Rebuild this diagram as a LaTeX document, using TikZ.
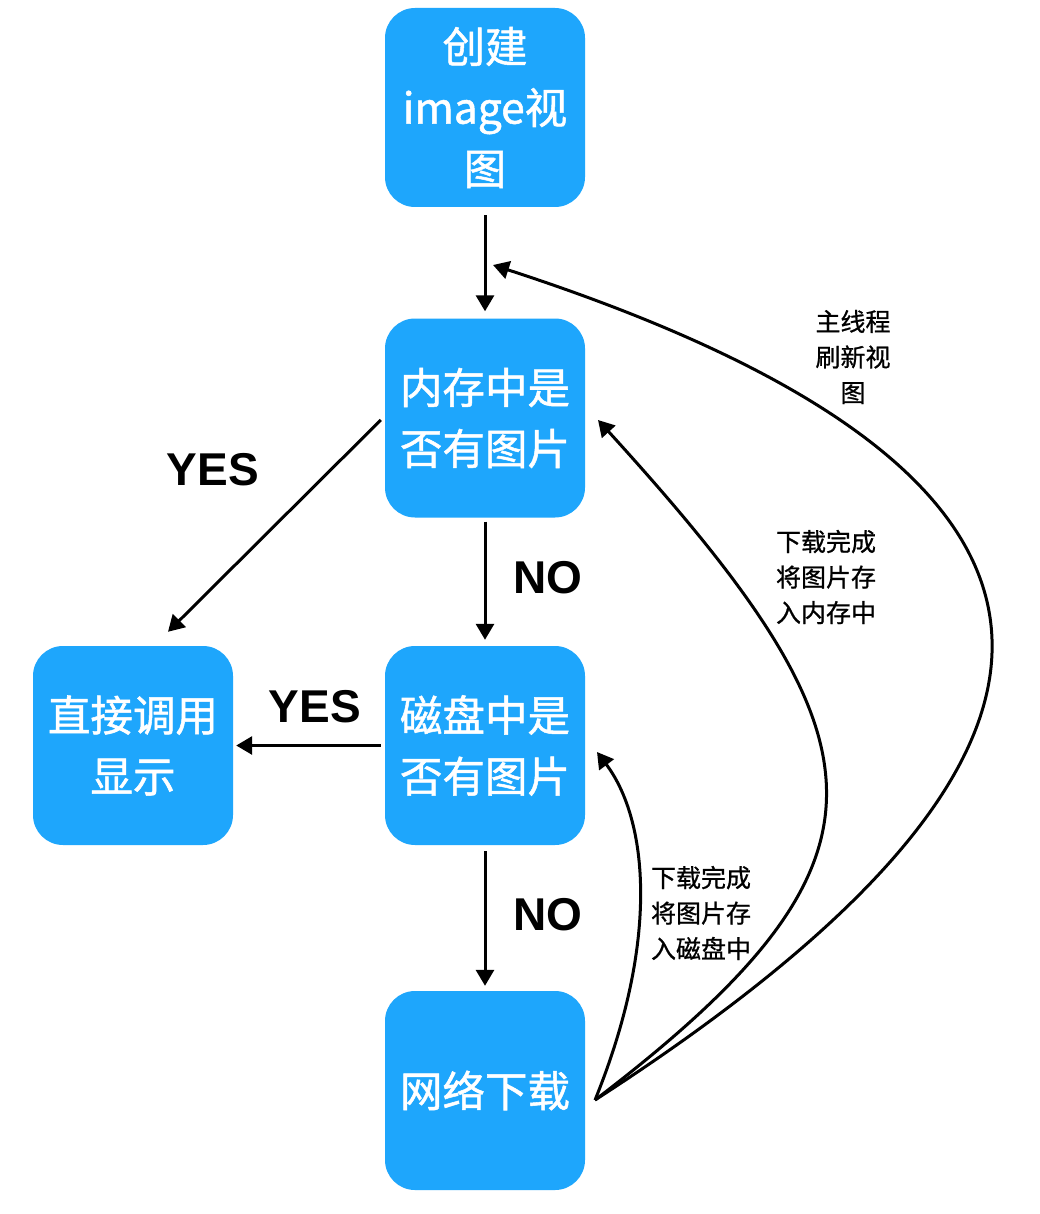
\documentclass[tikz,border=0pt]{standalone}
\usepackage{fontspec}
\setmainfont{Noto Sans CJK SC}
\newfontfamily\boxfont[FakeBold=1.2]{Noto Sans CJK SC}
\newfontfamily\smallfont[FakeBold=0.8]{Noto Sans CJK SC}
\newfontfamily\latinbold{Liberation Sans}
\usetikzlibrary{arrows.meta}
\definecolor{boxblue}{RGB}{30,166,252}
\begin{document}
\begin{tikzpicture}[x=1pt,y=-1pt,
 box/.style={fill=boxblue, rounded corners=30pt, minimum width=200pt, minimum height=199pt, text=white, font=\boxfont\fontsize{42.5}{61}\selectfont, align=center, inner sep=0pt},
 conn/.style={line width=3pt, -{Triangle[length=16pt,width=18pt]}},
 yn/.style={font=\latinbold\bfseries\fontsize{46}{50}\selectfont},
 small/.style={font=\smallfont\fontsize{25}{35.5}\selectfont, align=center}]
\fill[white] (0,0) rectangle (1040,1214);
\useasboundingbox (0,0) rectangle (1040,1214);
\node[box] (b1) at (485,107.5) {创建\\image视\\图};
\node[box] (b2) at (485,418) {内存中是\\否有图片};
\node[box] (b3) at (485,745.5) {磁盘中是\\否有图片};
\node[box] (b4) at (485,1090.5) {网络下载};
\node[box] (b5) at (133,745.5) {直接调用\\显示};
\draw[conn] ([yshift=-8pt]b1.south) -- ([yshift=7pt]b2.north);
\draw[conn] ([yshift=-4pt]b2.south) -- ([yshift=6pt]b3.north);
\draw[conn] ([yshift=-6pt]b3.south) -- ([yshift=5pt]b4.north);
\draw[conn] ([xshift=-4pt,yshift=-2pt]b2.west) -- ([xshift=35pt,yshift=14pt]b5.north);
\draw[conn] ([xshift=-4pt]b3.west) -- ([xshift=3pt]b5.east);
\node[yn] (y1) at (213,470) {YES};
\node[yn] (y2) at (315,707) {YES};
\node[yn] (n1) at (548,578) {NO};
\node[yn] (n2) at (548,915) {NO};
\coordinate (s) at (595,1100);
\coordinate (e3) at (597,752);
\coordinate (e2) at (598,420);
\coordinate (e1) at (493,265);
\draw[conn] (s) .. controls (660,940) and (648,820) .. (e3);
\draw[conn] (s) .. controls (912,858) and (891,742) .. (e2);
\draw[conn] (s) .. controls (1083,785) and (1195,493) .. (e1);
\node[small] (l1) at (853,357) {主线程\\刷新视\\图};
\node[small] (l2) at (826,577) {下载完成\\将图片存\\入内存中};
\node[small] (l3) at (701,913) {下载完成\\将图片存\\入磁盘中};
\end{tikzpicture}
\end{document}
